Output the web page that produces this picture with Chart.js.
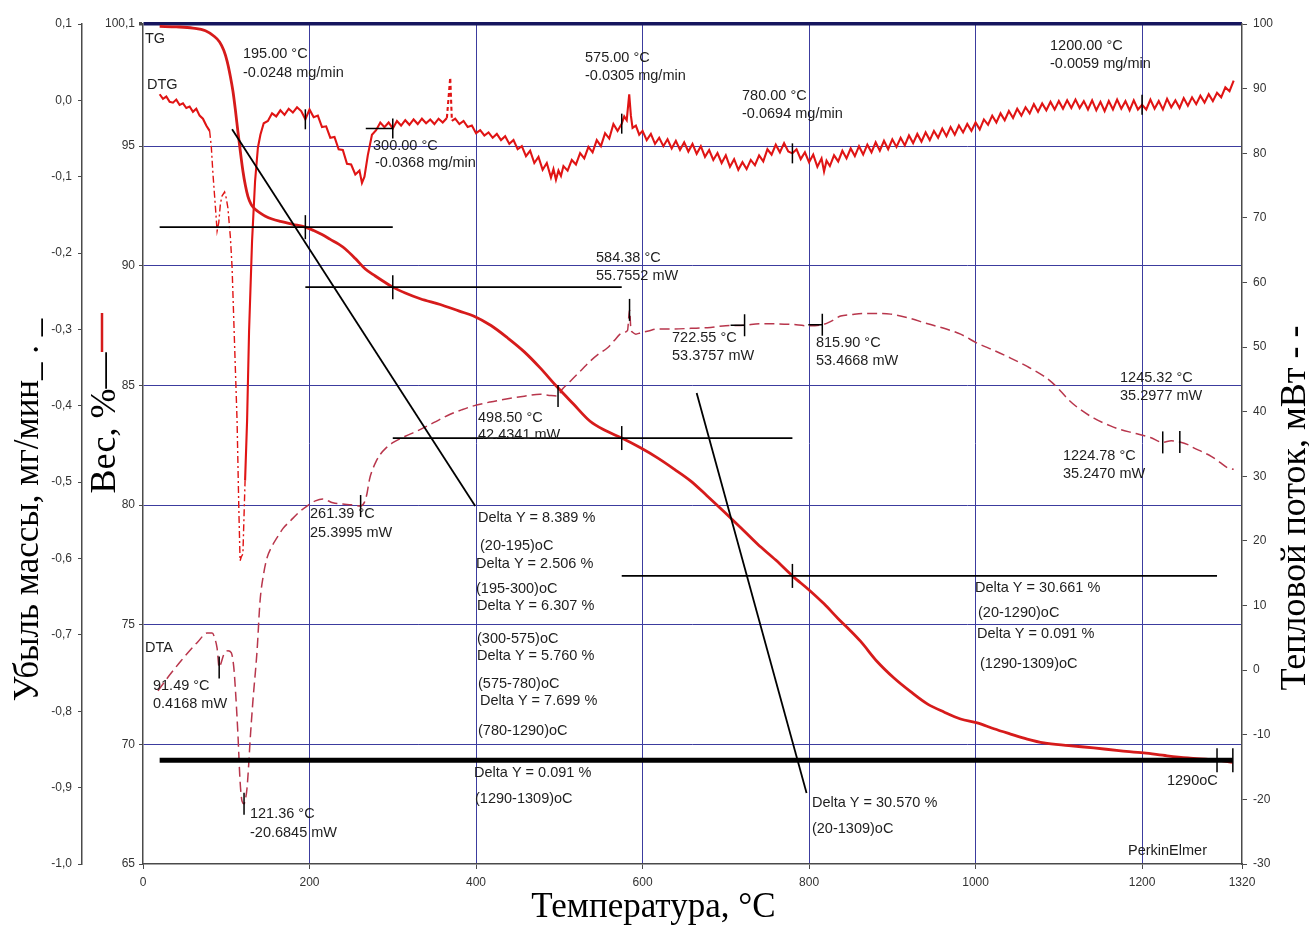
<!DOCTYPE html>
<html>
<head>
<meta charset="utf-8">
<script src="https://cdn.jsdelivr.net/npm/chart.js@4.4.1/dist/chart.umd.min.js"></script>
<style>
  html, body { margin: 0; padding: 0; background: #fff; }
  canvas { display: block; }
</style>
</head>
<body>
<canvas id="ta" width="1309" height="925" style="width:1309px;height:925px"></canvas>
<script>
// ---- Axis ticks ----
const tempTicks = [0, 200, 400, 600, 800, 1000, 1200, 1320];
const weightTicks = [65, 70, 75, 80, 85, 90, 95, 100.1];
const dtgTicks = [0.1, 0, -0.1, -0.2, -0.3, -0.4, -0.5, -0.6, -0.7, -0.8, -0.9, -1.0];
const dtaTicks = [100, 90, 80, 70, 60, 50, 40, 30, 20, 10, 0, -10, -20, -30];

// ---- TG: weight, % vs temperature, °C ----
const tgCurve = [
  [20,100.0],[40,99.98],[60,99.93],[75,99.82],[85,99.6],[92,99.35],[97,99.0],[101,98.55],
  [105,97.9],[108,97.3],[111,96.5],[114,95.6],[117,94.75],[120,93.96],[123,93.35],[126,92.9],
  [130,92.55],[135,92.35],[140,92.22],[147,92.07],[155,91.95],[165,91.85],[180,91.73],[195,91.611],
  [205,91.47],[215,91.3],[225,91.1],[235,90.9],[243,90.7],[255,90.3],[267,89.86],[279,89.57],
  [290,89.32],[300,89.105],[315,88.86],[333,88.62],[357,88.38],[380,88.1],[397,87.9],[418,87.5],
  [438,86.98],[458,86.4],[477,85.73],[497,84.95],[517,84.22],[537,83.5],[556,83.1],[575,82.798],
  [597,82.4],[618,81.97],[638,81.5],[658,81.0],[677,80.4],[697,79.75],[718,79.05],[738,78.37],
  [760,77.7],[780,77.038],[800,76.45],[818,75.87],[835,75.25],[850,74.74],[862,74.3],[882,73.45],
  [902,72.77],[922,72.2],[942,71.69],[962,71.35],[982,71.06],[1002,70.9],[1022,70.65],[1042,70.43],
  [1062,70.22],[1082,70.06],[1112,69.95],[1142,69.85],[1172,69.74],[1202,69.64],[1230,69.52],
  [1255,69.43],[1290,69.339],[1309,69.248]
];

// ---- DTG: mass loss rate, mg/min ----
const dtgCurve = [
  [20,0.008],[24,0.002],[28,0.005],[32,-0.002],[36,-0.003],[40,0.001],[44,-0.006],[48,-0.004],
  [52,-0.010],[56,-0.008],[60,-0.015],[64,-0.011],[68,-0.020],[72,-0.024],[76,-0.033],[80,-0.040],
  [82,-0.060],[84,-0.096],[87,-0.140],[89,-0.171],[91,-0.160],[93,-0.135],[95,-0.125],[98,-0.120],
  [100,-0.128],[102,-0.141],[105,-0.180],[107,-0.219],[110,-0.320],[113,-0.420],[115,-0.530],
  [116.6,-0.603],[118,-0.598],[120,-0.594],[122.6,-0.498],[125,-0.420],[127.4,-0.302],[131,-0.184],
  [134.6,-0.106],[138,-0.062],[141,-0.045],
  [145,-0.030],[150,-0.027],[155,-0.017],[160,-0.021],[165,-0.013],[170,-0.019],[175,-0.011],
  [180,-0.016],[185,-0.009],[190,-0.014],[195,-0.0248],[200,-0.012],[205,-0.022],[210,-0.020],
  [215,-0.035],[220,-0.034],[225,-0.049],[230,-0.048],[235,-0.064],[240,-0.065],[245,-0.083],
  [250,-0.084],[255,-0.097],[260,-0.092],[263,-0.108],[266,-0.100],[270,-0.072],[275,-0.045],
  [280,-0.039],[285,-0.029],[290,-0.035],[295,-0.029],[300,-0.0368],[305,-0.027],[310,-0.033],
  [315,-0.026],[320,-0.032],[325,-0.025],[330,-0.031],[335,-0.024],[340,-0.030],[345,-0.025],
  [350,-0.031],[355,-0.024],[360,-0.029],[365,-0.023],[369,0.030],[371,-0.027],[375,-0.024],
  [380,-0.031],[385,-0.027],[390,-0.035],[395,-0.033],[400,-0.043],[405,-0.039],[410,-0.046],
  [415,-0.042],[420,-0.049],[425,-0.044],[430,-0.052],[435,-0.047],[440,-0.057],[445,-0.052],
  [450,-0.064],[455,-0.060],[460,-0.073],[465,-0.066],[470,-0.082],[475,-0.074],[480,-0.091],
  [485,-0.082],[490,-0.101],[493,-0.090],[496,-0.104],[499,-0.092],[502,-0.099],[505,-0.086],
  [510,-0.092],[515,-0.078],[520,-0.084],[525,-0.069],[530,-0.076],[535,-0.061],[540,-0.068],
  [545,-0.052],[550,-0.060],[555,-0.043],[560,-0.050],[565,-0.031],[570,-0.040],[575,-0.0305],
  [578,-0.021],[581,-0.026],[584,0.008],[586,-0.020],[588,-0.036],[592,-0.033],[596,-0.045],
  [600,-0.040],[605,-0.052],[610,-0.044],[615,-0.057],[620,-0.049],[625,-0.060],[630,-0.051],
  [635,-0.063],[640,-0.053],[645,-0.065],[650,-0.055],[655,-0.067],[660,-0.057],[665,-0.070],
  [670,-0.060],[675,-0.074],[680,-0.065],[685,-0.078],[690,-0.069],[695,-0.082],[700,-0.072],
  [705,-0.087],[710,-0.077],[715,-0.091],[720,-0.081],[725,-0.090],[730,-0.078],[735,-0.085],
  [740,-0.072],[745,-0.080],[750,-0.064],[755,-0.071],[760,-0.058],[765,-0.068],[770,-0.056],
  [775,-0.067],[780,-0.0694],[785,-0.064],[790,-0.077],[795,-0.068],[800,-0.081],[805,-0.071],
  [810,-0.087],[815,-0.076],[818,-0.093],[821,-0.079],[825,-0.086],[830,-0.072],[835,-0.080],
  [840,-0.066],[845,-0.076],[850,-0.063],[855,-0.073],[860,-0.060],[865,-0.071],[870,-0.058],
  [875,-0.068],[880,-0.055],[885,-0.066],[890,-0.053],[895,-0.064],[900,-0.051],[905,-0.061],
  [910,-0.049],[915,-0.059],[920,-0.046],[925,-0.056],[930,-0.044],[935,-0.054],[940,-0.042],
  [945,-0.052],[950,-0.040],[955,-0.049],[960,-0.037],[965,-0.047],[970,-0.035],[975,-0.045],
  [980,-0.033],[985,-0.042],[990,-0.031],[995,-0.040],[1000,-0.029],[1005,-0.038],[1010,-0.025],
  [1015,-0.032],[1020,-0.020],[1025,-0.029],[1030,-0.017],[1035,-0.026],[1040,-0.014],[1045,-0.023],
  [1050,-0.011],[1055,-0.020],[1060,-0.009],[1065,-0.017],[1070,-0.005],[1075,-0.015],[1080,-0.004],
  [1085,-0.013],[1090,-0.002],[1095,-0.012],[1100,-0.001],[1105,-0.011],[1110,0.000],[1115,-0.010],
  [1120,0.001],[1125,-0.010],[1130,-0.001],[1135,-0.012],[1140,0.000],[1145,-0.013],[1150,-0.002],
  [1155,-0.014],[1160,-0.001],[1165,-0.012],[1170,0.001],[1175,-0.011],[1180,-0.001],[1185,-0.013],
  [1190,0.000],[1195,-0.012],[1200,-0.0059],[1205,-0.012],[1210,0.001],[1215,-0.011],[1220,-0.001],
  [1225,-0.012],[1230,0.002],[1235,-0.009],[1240,0.000],[1245,-0.010],[1250,0.003],[1255,-0.007],
  [1260,0.004],[1265,-0.005],[1270,0.006],[1275,-0.003],[1280,0.008],[1285,-0.001],[1290,0.010],
  [1295,0.004],[1300,0.017],[1305,0.012],[1310,0.026]
];

// ---- DTA: heat flow, mW ----
const dtaCurve = [
  [18,-3.2],[27,-1.6],[36,-0.1],[46,1.5],[56,3.0],[66,4.4],[77,5.75],[83,5.75],[87,4.6],[89,3.4],
  [91.49,0.4168],[94,1.2],[97,2.4],[102,3.0],[106,2.7],[109,0.5],[111,-3.0],[114,-9.9],[116.6,-17.2],
  [119,-20.3],[121.36,-20.6845],[123,-20.0],[125,-18.2],[127,-14.5],[128.6,-11.0],[132,-4.8],
  [137,3.0],[140.6,10.7],[145,15.0],[149,17.4],[155,19.2],[161,20.5],[168,21.9],[177,23.1],
  [187,24.4],[197,25.4],[207,26.2],[216,26.5],[228,25.9],[240,25.7],[250,25.6],[261.39,25.3995],
  [266,26.0],[269,27.3],[272,29.5],[275,30.8],[280,32.3],[285,33.4],[292,34.4],[300,35.2],
  [315,36.2],[329,37.0],[349,38.3],[369,39.6],[383,40.3],[397,40.9],[417,41.5],[438,42.0],
  [458,42.4],[477,42.7],[490,42.5],[498.5,42.4341],[503,43.4],[510,44.3],[517,45.2],[527,46.5],
  [537,47.8],[547,48.9],[558,49.9],[566,51.0],[573,52.0],[578,52.3],[582,52.6],[584.38,55.7552],
  [586,52.8],[588,52.3],[592,52.0],[597.5,52.2],[607,52.5],[618,52.8],[637,52.8],[658,52.9],
  [678,53.0],[700,53.3],[722.55,53.3757],[740,53.6],[757,53.6],[780,53.5],[798,53.3],
  [815.9,53.4668],[825,53.9],[838,54.8],[850,55.0],[865,55.2],[880,55.2],[898,55.1],[920,54.5],
  [942.5,53.6],[962,52.9],[982,52.0],[1002,50.6],[1022,49.5],[1042,48.3],[1062,47.0],[1082,45.5],
  [1092,44.5],[1102,43.2],[1112,41.8],[1123,40.6],[1142,39.0],[1162,37.8],[1175,37.2],[1190,36.7],
  [1210,36.0],[1224.78,35.247],[1235,35.5],[1245.32,35.2977],[1255,34.9],[1262,34.4],[1272,33.8],
  [1283,33.1],[1293,32.2],[1303,31.3],[1310,31.1]
];

// ---- Stepwise mass-loss evaluation ----
const startWeight = 100.0;
const stepTemps = [20, 195, 300, 575, 780, 1290, 1309];
const stepDeltas = [8.389, 2.506, 6.307, 5.760, 7.699, 0.091];
const stepLevels = stepDeltas.reduce((acc, d) => { acc.push(+(acc[acc.length - 1] - d).toFixed(3)); return acc; }, [startWeight]);
// horizontal guide spans (°C) for the levels after 195, 300, 575, 780 and 1290 °C
const guideSpans = [[20, 300], [195, 575], [300, 780], [575, 1290], [20, 1309]];
// tangent lines, [°C, %]
const tangentA = [[107, 95.7], [399, 79.96]];
const tangentB = [[665, 84.68], [797, 67.97]];

// ---- Evaluated points ----
const dtgPoints = [[195, -0.0248], [300, -0.0368], [575, -0.0305], [780, -0.0694], [1200, -0.0059]];
const dtaPoints = [[91.49, 0.4168], [121.36, -20.6845], [261.39, 25.3995], [498.50, 42.4341],
                   [584.38, 55.7552], [722.55, 53.3757], [815.90, 53.4668], [1224.78, 35.2470], [1245.32, 35.2977]];

// ---- Text notes: [text, °C, weight-axis %] ----
const notes = [
  ['TG', 2.4, 99.29], ['DTG', 4.8, 97.40], ['DTA', 2.4, 73.86],
  ['195.00 °C', 120.1, 98.68], ['-0.0248 mg/min', 120.1, 97.89],
  ['300.00 °C', 276.3, 94.83], ['-0.0368 mg/min', 278.7, 94.12],
  ['575.00 °C', 530.9, 98.51], ['-0.0305 mg/min', 530.9, 97.76],
  ['780.00 °C', 719.5, 96.92], ['-0.0694 mg/min', 719.5, 96.17],
  ['1200.00 °C', 1089.4, 99.01], ['-0.0059 mg/min', 1089.4, 98.26],
  ['584.38 °C', 544.1, 90.15], ['55.7552 mW', 544.1, 89.40],
  ['722.55 °C', 635.4, 86.81], ['53.3757 mW', 635.4, 86.06],
  ['815.90 °C', 808.3, 86.60], ['53.4668 mW', 808.3, 85.85],
  ['498.50 °C', 402.4, 83.47], ['42.4341 mW', 402.4, 82.76],
  ['261.39 °C', 200.6, 79.46], ['25.3995 mW', 200.6, 78.66],
  ['1245.32 °C', 1173.5, 85.14], ['35.2977 mW', 1173.5, 84.39],
  ['1224.78 °C', 1105.0, 81.88], ['35.2470 mW', 1105.0, 81.13],
  ['91.49 °C', 12.0, 72.27], ['0.4168 mW', 12.0, 71.52],
  ['121.36 °C', 128.5, 66.92], ['-20.6845 mW', 128.5, 66.13],
  ['Delta Y = 8.389 %', 402.4, 79.29], ['(20-195)oC', 404.8, 78.12],
  ['Delta Y = 2.506 %', 400.0, 77.37], ['(195-300)oC', 400.0, 76.32],
  ['Delta Y = 6.307 %', 401.2, 75.61], ['(300-575)oC', 401.2, 74.23],
  ['Delta Y = 5.760 %', 401.2, 73.52], ['(575-780)oC', 402.4, 72.35],
  ['Delta Y = 7.699 %', 404.8, 71.64], ['(780-1290)oC', 402.4, 70.39],
  ['Delta Y = 0.091 %', 397.6, 68.64], ['(1290-1309)oC', 398.8, 67.55],
  ['Delta Y = 30.570 %', 803.5, 67.38], ['(20-1309)oC', 803.5, 66.30],
  ['Delta Y = 30.661 %', 999.3, 76.37], ['(20-1290)oC', 1002.9, 75.32],
  ['Delta Y = 0.091 %', 1001.7, 74.44], ['(1290-1309)oC', 1005.3, 73.19],
  ['1290oC', 1229.9, 68.30], ['PerkinElmer', 1183.1, 65.38]
];

const toXY = arr => arr.map(([x, y]) => ({ x, y }));
const GRID_BLUE = '#3c3c9e';
const AXIS_GREY = '#4a4a4a';
const tickFont = { family: '"Liberation Sans", Arial, sans-serif', size: 12 };

const blackLine = (points, width) => ({
  data: toXY(points), yAxisID: 'yW', borderColor: '#000', borderWidth: width,
  pointRadius: 0, order: 0, fill: false
});

const inDip = c => c.p0.parsed.x >= 80 && c.p1.parsed.x <= 123;

const datasets = [
  ...guideSpans.map((span, i) => blackLine(
    [[span[0], stepLevels[i === 4 ? 5 : i + 1]], [span[1], stepLevels[i === 4 ? 5 : i + 1]]],
    i === 4 ? 5 : 1.8)),
  blackLine(tangentA, 1.8),
  blackLine(tangentB, 1.8),
  {
    label: 'TG', data: toXY(tgCurve), yAxisID: 'yW', borderColor: '#d61b1b', borderWidth: 2.8,
    pointRadius: 0, cubicInterpolationMode: 'monotone', order: 1
  },
  {
    label: 'DTG', data: toXY(dtgCurve), yAxisID: 'yDTG', borderColor: '#e01414', borderWidth: 2.1,
    pointRadius: 0, order: 2,
    segment: {
      borderDash: c => {
        if (inDip(c)) return [7, 3, 2, 3];
        if (c.p0.parsed.x === 369 || c.p1.parsed.x === 369) return [4, 3];
        return undefined;
      },
      borderWidth: c => inDip(c) ? 1.4 : undefined
    }
  },
  {
    label: 'DTA', data: toXY(dtaCurve), yAxisID: 'yDTA', borderColor: '#b8364c', borderWidth: 1.5,
    borderDash: [10, 5], pointRadius: 0, cubicInterpolationMode: 'monotone', order: 3
  }
];

const whiteBackground = {
  id: 'whiteBackground',
  beforeDraw(chart) {
    const c = chart.ctx;
    c.save();
    c.fillStyle = '#fff';
    c.fillRect(0, 0, chart.width, chart.height);
    c.restore();
  }
};

const overlay = {
  id: 'overlay',
  afterDatasetsDraw(chart) {
    const { ctx: c, scales } = chart;
    const sx = scales.x, sW = scales.yW, sG = scales.yDTG, sA = scales.yDTA;
    c.save();
    c.strokeStyle = '#000';
    c.lineWidth = 1.5;
    const mark = (px, py, half, stub) => {
      c.beginPath();
      c.moveTo(px, py - half); c.lineTo(px, py + half);
      if (stub) { c.moveTo(px - stub, py); c.lineTo(px, py); }
      c.stroke();
    };
    dtgPoints.forEach(([t, v], i) => mark(sx.getPixelForValue(t), sG.getPixelForValue(v), 10, i === 1 ? 27 : 0));
    dtaPoints.forEach(([t, v], i) => mark(sx.getPixelForValue(t), sA.getPixelForValue(v), 11, (i === 5 || i === 6) ? 14 : 0));
    stepTemps.slice(1).forEach((t, i) => {
      const level = i >= 4 ? stepLevels[5] : stepLevels[i + 1];
      mark(sx.getPixelForValue(t), sW.getPixelForValue(level), 12, 0);
    });

    c.fillStyle = '#1e1e1e';
    c.font = '14.5px "Liberation Sans", Arial, sans-serif';
    c.textAlign = 'left';
    c.textBaseline = 'alphabetic';
    notes.forEach(([txt, t, w]) => c.fillText(txt, sx.getPixelForValue(t), sW.getPixelForValue(w)));
    c.restore();
  },
  afterDraw(chart) {
    const c = chart.ctx;
    const sx = chart.scales.x;
    c.save();
    c.fillStyle = '#000';
    c.textBaseline = 'alphabetic';
    c.textAlign = 'center';

    const vertical = (txt, x, y) => {
      c.save(); c.translate(x, y); c.rotate(-Math.PI / 2); c.fillText(txt, 0, 0); c.restore();
    };
    c.font = '35px "Liberation Serif", "Times New Roman", serif';
    vertical('Убыль массы, мг/мин_ . _', 38, 510);
    c.font = '36px "Liberation Serif", "Times New Roman", serif';
    vertical('Вес, %—', 115, 423);
    vertical('Тепловой поток, мВт - -', 1305, 508);

    // red line sample next to the weight title
    c.strokeStyle = '#d61b1b';
    c.lineWidth = 2.5;
    c.beginPath();
    c.moveTo(102, 313); c.lineTo(102, 352);
    c.stroke();

    // temperature title sits a little left of the plot centre
    c.font = '35px "Liberation Serif", "Times New Roman", serif';
    c.fillText('Температура, °C', sx.getPixelForValue(613), 917);
    c.restore();
  }
};

new Chart(document.getElementById('ta'), {
  type: 'line',
  data: { datasets },
  options: {
    responsive: false,
    animation: false,
    devicePixelRatio: 1,
    layout: { padding: { top: 24, left: 0, right: 0, bottom: 0 } },
    plugins: { legend: { display: false }, tooltip: { enabled: false } },
    elements: { line: { tension: 0 } },
    scales: {
      x: {
        type: 'linear', position: 'bottom', min: 0, max: 1320,
        afterBuildTicks: s => { s.ticks = tempTicks.map(v => ({ value: v })); },
        afterFit: s => { s.height = 61; },
        ticks: {
          autoSkip: false, maxRotation: 0, padding: 6, color: '#333', font: tickFont,
          callback: v => String(v)
        },
        grid: {
          color: g => (g.tick && (g.tick.value === 0 || g.tick.value === 1320)) ? 'rgba(0,0,0,0)' : GRID_BLUE,
          lineWidth: 1, tickLength: 5, tickColor: AXIS_GREY
        },
        border: { display: true, color: AXIS_GREY, width: 1.5 }
      },
      yW: {
        type: 'linear', position: 'left', weight: 0, min: 65, max: 100.1,
        afterBuildTicks: s => { s.ticks = weightTicks.map(v => ({ value: v })); },
        afterFit: s => { s.width = 61; },
        ticks: {
          autoSkip: false, padding: 4, color: '#333', font: tickFont,
          callback: v => String(v).replace('.', ',')
        },
        grid: {
          color: g => {
            if (!g.tick) return GRID_BLUE;
            if (g.tick.value === 65) return 'rgba(0,0,0,0)';
            if (g.tick.value === 100.1) return '#15155e';
            return GRID_BLUE;
          },
          lineWidth: g => (g.tick && g.tick.value === 100.1) ? 3.5 : 1,
          tickLength: 4, tickColor: AXIS_GREY
        },
        border: { display: true, color: AXIS_GREY, width: 1.5 }
      },
      yDTG: {
        type: 'linear', position: 'left', weight: 1, min: -1.0, max: 0.1,
        afterBuildTicks: s => { s.ticks = dtgTicks.map(v => ({ value: v })); },
        afterFit: s => { s.width = 82; },
        ticks: {
          autoSkip: false, padding: 6, color: '#333', font: tickFont,
          callback: v => v.toFixed(1).replace('.', ',')
        },
        grid: { drawOnChartArea: false, tickLength: 4, tickColor: AXIS_GREY },
        border: { display: true, color: AXIS_GREY, width: 1.5 }
      },
      yDTA: {
        type: 'linear', position: 'right', min: -30, max: 100,
        afterBuildTicks: s => { s.ticks = dtaTicks.map(v => ({ value: v })); },
        afterFit: s => { s.width = 67; },
        ticks: { autoSkip: false, padding: 6, color: '#333', font: tickFont, callback: v => String(v) },
        grid: { drawOnChartArea: false, tickLength: 5, tickColor: AXIS_GREY },
        border: { display: true, color: AXIS_GREY, width: 1.5 }
      }
    }
  },
  plugins: [whiteBackground, overlay]
});
</script>
</body>
</html>
